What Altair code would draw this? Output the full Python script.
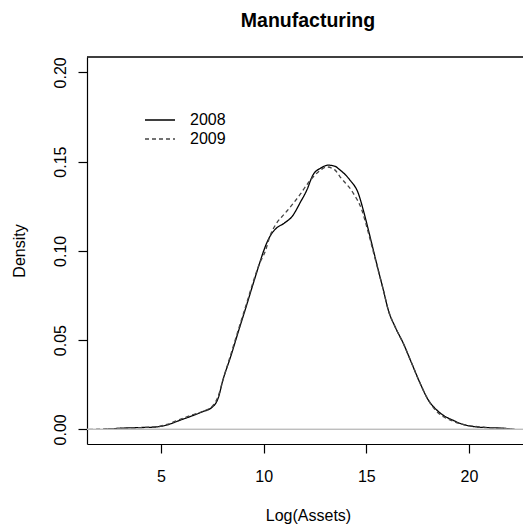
import altair as alt
import pandas as pd

# ---- data ----
x_2008 = [2.2, 3.0, 4.0, 4.7, 5.3, 5.9, 6.5, 7.0, 7.5, 7.8, 8.0, 8.4, 8.8, 9.1, 9.5,
          9.8, 10.0, 10.3, 10.6, 11.0, 11.4, 11.8, 12.1, 12.4, 12.8, 13.15, 13.45,
          13.72, 14.2, 14.61, 14.85, 15.1, 15.34, 15.58, 15.83, 16.07, 16.4, 16.8,
          17.21, 17.62, 18.02, 18.43, 18.8, 19.24, 19.7, 20.2, 21.0, 21.7, 22.1]
y_2008 = [0.0, 0.0006, 0.0010, 0.0013, 0.0025, 0.0050, 0.0075, 0.0098, 0.0125, 0.0180,
          0.0270, 0.0410, 0.0560, 0.0670, 0.0820, 0.0930, 0.1000, 0.1080, 0.1125,
          0.1155, 0.1195, 0.1275, 0.1340, 0.1425, 0.1465, 0.1480, 0.1475, 0.1453,
          0.1397, 0.1322, 0.1229, 0.1117, 0.1005, 0.0893, 0.0780, 0.0668, 0.0575,
          0.0482, 0.0370, 0.0258, 0.0164, 0.0108, 0.0075, 0.0050, 0.0028, 0.0016,
          0.0009, 0.0006, 0.0]

x_2009 = [1.5, 2.2, 3.0, 4.0, 4.7, 5.3, 5.9, 6.5, 7.0, 7.5, 7.8, 8.0, 8.4, 8.8, 9.1,
          9.5, 9.8, 10.07, 10.3, 10.6, 11.0, 11.4, 11.8, 12.1, 12.42, 12.8, 13.07,
          13.45, 13.72, 14.37, 14.78, 15.02, 15.34, 15.58, 15.83, 16.07, 16.4, 16.8,
          17.21, 17.62, 18.02, 18.43, 18.8, 19.24, 19.7, 20.2, 21.0, 21.7, 22.3]
y_2009 = [0.0, 0.0002, 0.0006, 0.0010, 0.0014, 0.0028, 0.0055, 0.0080, 0.0100, 0.0130,
          0.0190, 0.0270, 0.0420, 0.0570, 0.0680, 0.0830, 0.0930, 0.0995, 0.1080,
          0.1150, 0.1205, 0.1260, 0.1320, 0.1370, 0.1415, 0.1455, 0.1470, 0.1455,
          0.1415, 0.1322, 0.1229, 0.1135, 0.0995, 0.0890, 0.0780, 0.0668, 0.0575,
          0.0482, 0.0370, 0.0258, 0.0164, 0.0100, 0.0068, 0.0045, 0.0028, 0.0018,
          0.0010, 0.0005, 0.0]

years = ["2008", "2009"]
x_ticks = [5, 10, 15, 20]
y_ticks = [0.00, 0.05, 0.10, 0.15, 0.20]

df = pd.concat([
    pd.DataFrame({"x": x_2008, "y": y_2008, "year": years[0]}),
    pd.DataFrame({"x": x_2009, "y": y_2009, "year": years[1]}),
])
legend_df = pd.DataFrame({"year": years})

FONT = "Liberation Sans"
W, H = 436, 387

xscale = alt.Scale(domain=[1.396, 22.63], nice=False, zero=False)
yscale = alt.Scale(domain=[-0.0082, 0.2086], nice=False, zero=False)
color_scale = alt.Scale(domain=years, range=["black", "#444444"])
dash_scale = alt.Scale(domain=years, range=[[1, 0], [4, 3]])
legend_rows = alt.Scale(type="point", domain=years, range=[63, 82], padding=0)

zero_line = alt.Chart(legend_df).mark_rule(
    color="#BEBEBE", strokeWidth=1.3
).encode(y=alt.datum(0.0))

top_frame = alt.Chart(legend_df).mark_rule(
    color="black", strokeWidth=1.2
).encode(x=alt.value(0), x2=alt.value(W), y=alt.value(0))

lines = alt.Chart(df).mark_line(strokeWidth=1.3, clip=True, interpolate="monotone").encode(
    x=alt.X("x:Q", scale=xscale,
            axis=alt.Axis(values=x_ticks, title="Log(Assets)", grid=False,
                          tickSize=9, labelPadding=15, titleX=221, titleY=76,
                          titleBaseline="alphabetic", titleAlign="center")),
    y=alt.Y("y:Q", scale=yscale,
            axis=alt.Axis(values=y_ticks, format=".2f", title="Density", grid=False,
                          tickSize=9, labelPadding=13, labelAngle=270,
                          labelAlign="center", labelBaseline="alphabetic",
                          titleAngle=270, titleX=-63, titleY=H / 2,
                          titleBaseline="alphabetic", titleAlign="center")),
    color=alt.Color("year:N", scale=color_scale, legend=None),
    strokeDash=alt.StrokeDash("year:N", scale=dash_scale, legend=None),
    detail="year:N",
)

main = alt.layer(lines, zero_line, top_frame)

legend_lines = alt.Chart(legend_df).mark_rule(strokeWidth=1.3).encode(
    x=alt.value(58), x2=alt.value(88),
    y=alt.Y("year:N", scale=legend_rows, axis=None),
    color=alt.Color("year:N", scale=color_scale, legend=None),
    strokeDash=alt.StrokeDash("year:N", scale=dash_scale, legend=None),
)
legend_text = alt.Chart(legend_df).mark_text(
    align="left", baseline="middle", font=FONT, fontSize=16, color="black"
).encode(
    x=alt.value(103),
    y=alt.Y("year:N", scale=legend_rows, axis=None),
    text="year:N",
)
legend = alt.layer(legend_lines, legend_text)

chart = alt.layer(main, legend).resolve_scale(
    y="independent"
).properties(
    width=W, height=H,
    title=alt.TitleParams("Manufacturing", font=FONT, fontSize=19.5, fontWeight="bold",
                          anchor="middle", dx=3, offset=10, baseline="alphabetic",
                          color="black"),
    autosize=alt.AutoSizeParams(type="none"),
    padding={"left": 87, "top": 57, "right": 0, "bottom": 81},
    background="white",
).configure_view(stroke=None).configure_axis(
    labelFont=FONT, titleFont=FONT, labelFontSize=16, titleFontSize=16,
    titleFontWeight="normal", labelColor="black", titleColor="black",
    domainColor="black", tickColor="black", domainWidth=1.2, tickWidth=1.2,
    grid=False,
)

chart.save("out.html", embed_options={"renderer": "svg", "actions": False})
